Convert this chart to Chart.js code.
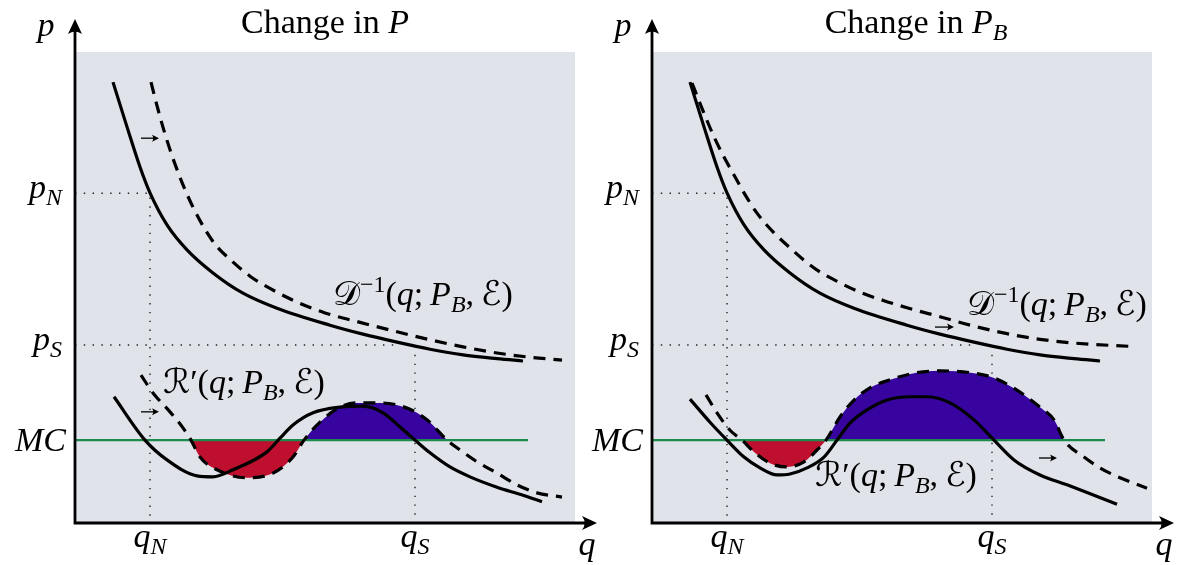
<!DOCTYPE html>
<html lang="en">
<head>
<meta charset="UTF-8" />
<title>Change in P / Change in P_B</title>
<script src="https://cdn.jsdelivr.net/npm/chart.js"></script>
<style>
  html, body { margin: 0; padding: 0; background: #fff; }
  .panel { position: absolute; top: 0; }
  #leftPanel { left: 0; }
  #rightPanel { left: 577px; }
</style>
</head>
<body>
<canvas id="leftPanel" class="panel" width="600" height="565"></canvas>
<canvas id="rightPanel" class="panel" width="600" height="565"></canvas>
<script>
// q and p both run 0..10 across the grey box
const qN = 1.5, qS = 6.8;
const pN = 7.0, pS = 3.78, MC = 1.76;
const mcEnd = 9.06;

// inverse demand, before the change (same in both panels)
const demandQ = [0.76, 1.04, 1.30, 1.50, 1.84, 2.24, 2.76, 3.36, 4.04, 5.10, 5.76, 6.44, 7.10, 7.76, 8.44, 8.96];
const demandP = [9.36, 8.41, 7.56, 7.01, 6.33, 5.80, 5.31, 4.88, 4.56, 4.20, 4.01, 3.84, 3.69, 3.57, 3.49, 3.44];

// inverse demand after a change in P (left) and in P_B (right)
const demandPQ = [1.52, 1.64, 1.80, 2.00, 2.24, 2.50, 2.80, 3.14, 3.50, 3.90, 4.40, 5.00, 5.70, 6.44, 7.10, 7.76, 8.44, 9.10, 9.74];
const demandPP = [9.36, 8.86, 8.26, 7.62, 6.98, 6.42, 5.92, 5.56, 5.24, 4.98, 4.71, 4.46, 4.26, 4.06, 3.89, 3.74, 3.61, 3.52, 3.46];
const demandBQ = [0.80, 1.04, 1.24, 1.44, 1.64, 1.84, 2.10, 2.44, 2.70, 3.04, 3.36, 3.76, 4.16, 4.64, 5.10, 5.76, 6.44, 7.10, 7.76, 8.44, 9.56];
const demandBP = [9.34, 8.70, 8.20, 7.77, 7.39, 7.01, 6.58, 6.16, 5.90, 5.58, 5.33, 5.10, 4.90, 4.72, 4.57, 4.38, 4.18, 4.02, 3.90, 3.82, 3.75];

// marginal revenue, before (solid) and after (dashed)
const mrLeftQ = [0.78, 1.40, 1.84, 2.44, 2.76, 3.16, 3.84, 4.10, 4.36, 4.76, 5.30, 5.76, 6.16, 6.50, 6.80, 7.10, 7.50, 7.90, 8.44, 8.96, 9.34];
const mrLeftP = [2.68, 1.76, 1.34, 1.00, 0.98, 1.13, 1.51, 1.80, 2.08, 2.34, 2.46, 2.48, 2.34, 2.04, 1.76, 1.49, 1.19, 0.98, 0.76, 0.59, 0.45];
const mrPQ = [1.32, 1.56, 1.90, 2.16, 2.32, 2.50, 2.84, 3.44, 3.96, 4.36, 4.58, 4.90, 5.30, 5.64, 6.10, 6.64, 7.04, 7.44, 7.70, 8.04, 8.44, 8.84, 9.24, 9.74];
const mrPP = [3.14, 2.76, 2.36, 2.02, 1.76, 1.40, 1.13, 0.96, 1.06, 1.40, 1.76, 2.14, 2.46, 2.55, 2.55, 2.44, 2.19, 1.76, 1.55, 1.30, 1.06, 0.81, 0.64, 0.55];
const mrRightQ = [0.76, 1.16, 1.50, 1.84, 2.16, 2.50, 2.76, 3.10, 3.44, 3.70, 3.96, 4.30, 4.70, 5.16, 5.50, 5.96, 6.44, 6.84, 7.24, 7.76, 8.30, 8.84, 9.30];
const mrRightP = [2.63, 2.14, 1.76, 1.40, 1.17, 1.02, 1.04, 1.17, 1.40, 1.76, 2.12, 2.40, 2.61, 2.68, 2.68, 2.55, 2.19, 1.76, 1.34, 1.02, 0.81, 0.59, 0.40];
const mrBQ = [1.08, 1.30, 1.56, 1.80, 2.04, 2.36, 2.70, 3.04, 3.30, 3.48, 3.76, 4.04, 4.36, 4.76, 5.24, 5.76, 6.44, 6.84, 7.30, 7.76, 8.04, 8.24, 8.64, 8.96, 9.36, 9.90];
const mrBP = [2.72, 2.34, 1.97, 1.76, 1.51, 1.27, 1.19, 1.30, 1.55, 1.76, 2.25, 2.61, 2.87, 3.04, 3.18, 3.23, 3.18, 3.08, 2.82, 2.46, 2.19, 1.76, 1.40, 1.17, 0.96, 0.74];

// where the dashed MR leaves and rejoins MC (shaded part)
const fillLeft = [2.32, 7.44];
const fillRight = [1.80, 8.24];

// dotted guides end on the demand curve
const guideSEndQ = 6.44, guideSTopP = 3.57;

// little shift arrows: [qFrom, p, qTo]
const arrowsLeft = [[1.32, 8.17, 1.68], [1.32, 2.36, 1.68]];
const arrowsRight = [[5.66, 4.16, 6.04], [7.74, 1.38, 8.10]];

// label anchors (left end of baseline)
const dLabelLeft = [5.16, 4.63], mrLabelLeft = [1.76, 2.76];
const dLabelRight = [6.30, 4.41], mrLabelRight = [3.26, 0.79];

const SERIF = "'Liberation Serif', 'DejaVu Serif', serif";
const CAL = "'DejaVu Serif', 'DejaVu Sans', serif";
const SIZE = 34, SMALL = 24;
const GREY = '#e0e3ea', RED = '#be0f2e', BLUE = '#3804a0', GREEN = '#1b8a4c';

function pts(qs, ps) { return qs.map((q, i) => ({ x: q, y: ps[i] })); }
function between(list, range) { return list.filter(d => d.x >= range[0] - 1e-9 && d.x <= range[1] + 1e-9); }

function partFont(kind) {
  if (kind === 'it') return `italic ${SIZE}px ${SERIF}`;
  if (kind === 'sub') return `italic ${SMALL}px ${SERIF}`;
  if (kind === 'sup') return `${SMALL}px ${SERIF}`;
  if (kind === 'cal') return `${SIZE}px ${CAL}`;
  return `${SIZE}px ${SERIF}`;
}

function drawMath(ctx, parts, x, y, align) {
  let w = 0;
  const widths = parts.map(([t, k]) => {
    ctx.font = partFont(k);
    const m = ctx.measureText(t).width;
    w += m;
    return m;
  });
  let cx = align === 'center' ? x - w / 2 : align === 'right' ? x - w : x;
  ctx.textAlign = 'left';
  ctx.textBaseline = 'alphabetic';
  parts.forEach(([t, k], i) => {
    ctx.font = partFont(k);
    const dy = k === 'sub' ? 7 : k === 'sup' ? -13 : 0;
    ctx.fillText(t, cx, y + dy);
    cx += widths[i];
  });
}

function arrowHead(ctx, x, y, ang, len, half) {
  ctx.save();
  ctx.translate(x, y);
  ctx.rotate(ang);
  ctx.beginPath();
  ctx.moveTo(0, 0);
  ctx.lineTo(-len, -half);
  ctx.quadraticCurveTo(-len * 0.65, 0, -len, half);
  ctx.closePath();
  ctx.fill();
  ctx.restore();
}

const dLabel = [['𝒟', 'cal'], ['−1', 'sup'], ['(', 'rm'], ['q', 'it'], [';\u2009', 'rm'],
  ['P', 'it'], ['B', 'sub'], [',\u2009', 'rm'], ['ℰ', 'cal'], [')', 'rm']];
const mrLabel = [['ℛ', 'cal'], ['′', 'rm'], ['(', 'rm'], ['q', 'it'], [';\u2009', 'rm'],
  ['P', 'it'], ['B', 'sub'], [',\u2009', 'rm'], ['ℰ', 'cal'], [')', 'rm']];

function overlay(panel) {
  return {
    id: 'overlay',
    beforeDraw(chart) {
      const { ctx, chartArea: a } = chart;
      ctx.save();
      ctx.fillStyle = GREY;
      ctx.fillRect(a.left, a.top, a.right - a.left, a.bottom - a.top);
      ctx.restore();
    },
    afterDraw(chart) {
      const { ctx, chartArea: a, scales: { x, y } } = chart;
      ctx.save();
      ctx.fillStyle = '#000';
      ctx.strokeStyle = '#000';

      // axes with arrow tips
      ctx.lineWidth = 2.8;
      ctx.beginPath();
      ctx.moveTo(a.left, a.bottom + 1.4);
      ctx.lineTo(a.left, 30);
      ctx.moveTo(a.left - 1.4, a.bottom);
      ctx.lineTo(a.right + 12, a.bottom);
      ctx.stroke();
      arrowHead(ctx, a.left, 19, -Math.PI / 2, 15, 7);
      arrowHead(ctx, a.right + 22, a.bottom, 0, 15, 7);

      // small shift arrows
      ctx.lineWidth = 1.3;
      panel.arrows.forEach(([q0, p, q1]) => {
        const yy = y.getPixelForValue(p);
        ctx.beginPath();
        ctx.moveTo(x.getPixelForValue(q0), yy);
        ctx.lineTo(x.getPixelForValue(q1) - 3, yy);
        ctx.stroke();
        arrowHead(ctx, x.getPixelForValue(q1), yy, 0, 7, 3.5);
      });

      // axis labels and marks
      drawMath(ctx, [['p', 'it']], a.left - 29, a.top - 16, 'center');
      drawMath(ctx, [['q', 'it']], a.right + 12, a.bottom + 32, 'center');
      drawMath(ctx, [['p', 'it'], ['N', 'sub']], a.left - 13, y.getPixelForValue(pN) + 5, 'right');
      drawMath(ctx, [['p', 'it'], ['S', 'sub']], a.left - 13, y.getPixelForValue(pS) + 5, 'right');
      drawMath(ctx, [['MC', 'it']], a.left - 9, y.getPixelForValue(MC) + 11, 'right');
      drawMath(ctx, [['q', 'it'], ['N', 'sub']], x.getPixelForValue(qN), a.bottom + 24, 'center');
      drawMath(ctx, [['q', 'it'], ['S', 'sub']], x.getPixelForValue(qS), a.bottom + 24, 'center');

      // curve labels and title
      drawMath(ctx, dLabel, x.getPixelForValue(panel.dAt[0]), y.getPixelForValue(panel.dAt[1]), 'left');
      drawMath(ctx, mrLabel, x.getPixelForValue(panel.mrAt[0]), y.getPixelForValue(panel.mrAt[1]), 'left');
      drawMath(ctx, panel.title, a.left + panel.titleDx, a.top - 19, 'center');
      ctx.restore();
    }
  };
}

function curve(data, dashed) {
  return {
    data, borderColor: '#000', borderWidth: 3.2, borderDash: dashed ? [12, 8] : [],
    cubicInterpolationMode: 'monotone', tension: 0.4, fill: false, pointRadius: 0
  };
}

function guide(data) {
  return { data, borderColor: '#222', borderWidth: 1.4, borderDash: [1.4, 7.4], fill: false, pointRadius: 0 };
}

function makePanel(id, panel) {
  const dashedMR = pts(panel.mrNewQ, panel.mrNewP);
  new Chart(document.getElementById(id), {
    type: 'line',
    data: {
      datasets: [
        curve(pts(demandQ, demandP), false),
        curve(pts(panel.dNewQ, panel.dNewP), true),
        curve(pts(panel.mrQ, panel.mrP), false),
        curve(dashedMR, true),
        { data: pts([0, mcEnd], [MC, MC]), borderColor: GREEN, borderWidth: 2.2, fill: false, pointRadius: 0 },
        {
          data: between(dashedMR, panel.fill), borderWidth: 0, borderColor: 'rgba(0,0,0,0)', pointRadius: 0,
          cubicInterpolationMode: 'monotone', tension: 0.4,
          fill: { target: { value: MC }, above: BLUE, below: RED }
        },
        guide(pts([0, qN, qN], [pN, pN, 0])),
        guide(pts([0, guideSEndQ], [pS, pS])),
        guide(pts([qS, qS], [guideSTopP, 0]))
      ]
    },
    options: {
      responsive: false,
      animation: false,
      events: [],
      layout: { padding: { left: 75, top: 52, right: 25, bottom: 42 } },
      scales: {
        x: { type: 'linear', min: 0, max: 10, display: false },
        y: { type: 'linear', min: 0, max: 10, display: false }
      },
      plugins: { legend: { display: false }, tooltip: { enabled: false } }
    },
    plugins: [overlay(panel)]
  });
}

makePanel('leftPanel', {
  title: [['Change in ', 'rm'], ['P', 'it']], titleDx: 250,
  dNewQ: demandPQ, dNewP: demandPP, mrQ: mrLeftQ, mrP: mrLeftP, mrNewQ: mrPQ, mrNewP: mrPP,
  fill: fillLeft, arrows: arrowsLeft, dAt: dLabelLeft, mrAt: mrLabelLeft
});
makePanel('rightPanel', {
  title: [['Change in ', 'rm'], ['P', 'it'], ['B', 'sub']], titleDx: 264,
  dNewQ: demandBQ, dNewP: demandBP, mrQ: mrRightQ, mrP: mrRightP, mrNewQ: mrBQ, mrNewP: mrBP,
  fill: fillRight, arrows: arrowsRight, dAt: dLabelRight, mrAt: mrLabelRight
});
</script>
</body>
</html>
